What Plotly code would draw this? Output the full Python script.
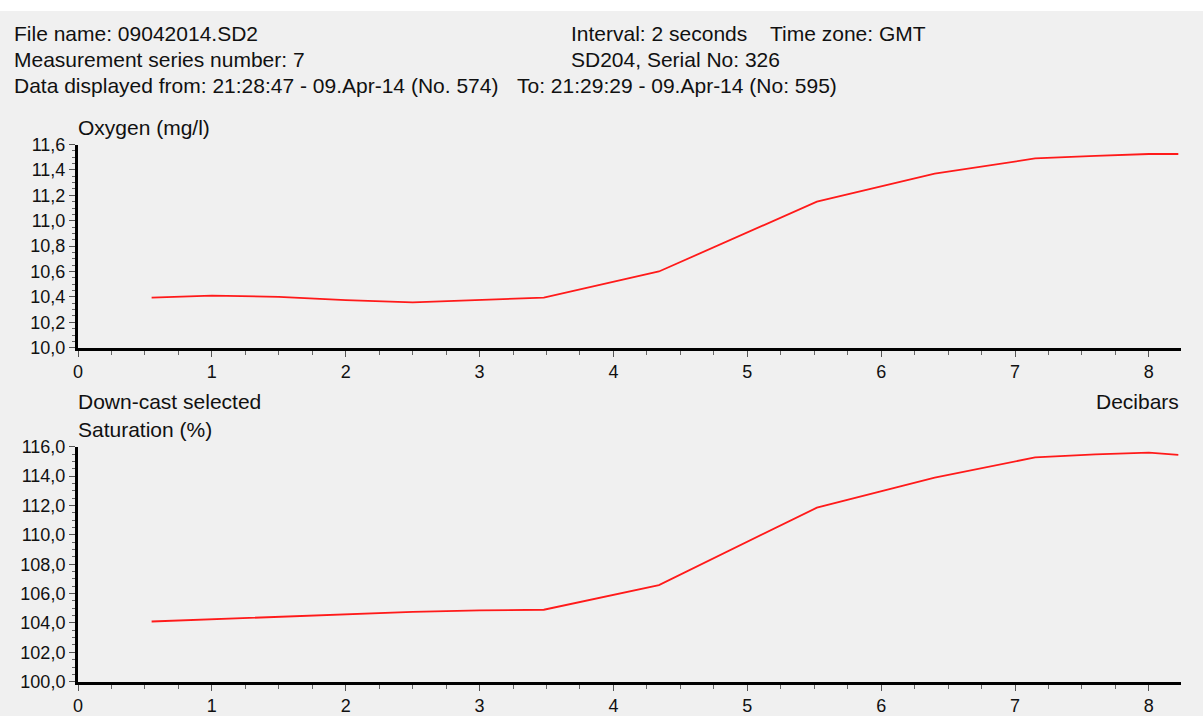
import plotly.graph_objects as go
from plotly.subplots import make_subplots

# ---- data ----
pressure_dbar = [0.55, 1.0, 1.5, 2.0, 2.5, 3.0, 3.48, 4.34, 5.52, 6.4, 7.15, 7.6, 8.0, 8.22]
oxygen_mgl = [10.395, 10.41, 10.40, 10.375, 10.357, 10.375, 10.395, 10.60, 11.15, 11.37, 11.49, 11.51, 11.525, 11.525]
saturation_pct = [104.1, 104.25, 104.4, 104.58, 104.75, 104.85, 104.9, 106.58, 111.85, 113.9, 115.27, 115.48, 115.59, 115.45]

x_ticks = [0, 1, 2, 3, 4, 5, 6, 7, 8]
oxy_ticks = [10.0, 10.2, 10.4, 10.6, 10.8, 11.0, 11.2, 11.4, 11.6]
sat_ticks = [100.0, 102.0, 104.0, 106.0, 108.0, 110.0, 112.0, 114.0, 116.0]

header_left = ["File name: 09042014.SD2", "Measurement series number: 7",
               "Data displayed from: 21:28:47 - 09.Apr-14 (No. 574)"]
header_right = ["Interval: 2 seconds", "SD204, Serial No: 326"]
header_tz = "Time zone: GMT"
header_to = "To: 21:29:29 - 09.Apr-14 (No: 595)"

W, H = 1203, 716
BG = "#f0f0f0"
FONT = "Liberation Sans, Arial, sans-serif"

def py(pix):
    return 1 - pix / H

fig = make_subplots(rows=2, cols=1)
fig.add_trace(go.Scatter(x=pressure_dbar, y=oxygen_mgl, mode="lines",
                         line=dict(color="#ff1a1a", width=1.8), hoverinfo="skip"), row=1, col=1)
fig.add_trace(go.Scatter(x=pressure_dbar, y=saturation_pct, mode="lines",
                         line=dict(color="#ff1a1a", width=1.8), hoverinfo="skip"), row=2, col=1)

xcommon = dict(range=[0, 8.24], tickvals=x_ticks, ticks="outside", ticklen=6, tickwidth=1,
               tickcolor="#555", showline=True, linecolor="black", linewidth=3,
               showgrid=False, zeroline=False, automargin=False,
               tickfont=dict(family=FONT, size=18, color="#111"),
               minor=dict(dtick=0.25, ticks="outside", ticklen=4, tickcolor="#666", showgrid=False))
ycommon = dict(ticks="outside", ticklen=6, tickwidth=1, tickcolor="#555",
               showline=True, linecolor="black", linewidth=3, showgrid=False,
               zeroline=False, automargin=False, tickformat=".1f",
               tickfont=dict(family=FONT, size=18, color="#111"))

fig.update_xaxes(**xcommon)
fig.update_yaxes(**ycommon)
fig.update_layout(
    xaxis=dict(domain=[78 / W, 1181 / W]),
    xaxis2=dict(domain=[78 / W, 1181 / W]),
    yaxis=dict(domain=[py(347.7), py(144.5)], range=[10.0, 11.6], tickvals=oxy_ticks,
               minor=dict(dtick=0.05, ticks="outside", ticklen=3, tickcolor="#666", showgrid=False)),
    yaxis2=dict(domain=[py(681.7), py(446.7)], range=[100.0, 116.0], tickvals=sat_ticks,
                minor=dict(dtick=0.5, ticks="outside", ticklen=3, tickcolor="#666", showgrid=False)),
)

ann = []
def add_text(txt, x, yc, xanchor="left"):
    ann.append(dict(text=txt, x=x / W, y=py(yc), xref="paper", yref="paper",
                    xanchor=xanchor, yanchor="middle", showarrow=False,
                    font=dict(family=FONT, size=21, color="#111")))

for i, t in enumerate(header_left):
    add_text(t, 12, 34 + 26 * i)
add_text(header_right[0], 569, 34)
add_text(header_tz, 768, 34)
add_text(header_right[1], 569, 60)
add_text(header_to, 515, 86)
add_text("Oxygen (mg/l)", 76, 127)
add_text("Down-cast selected", 76, 401)
add_text("Saturation (%)", 76, 429)
add_text("Decibars", 1181, 401, xanchor="right")

fig.update_layout(
    width=W, height=H,
    margin=dict(l=0, r=0, t=0, b=0),
    paper_bgcolor=BG, plot_bgcolor=BG,
    separators=",.",
    showlegend=False,
    annotations=ann,
    shapes=[dict(type="rect", xref="paper", yref="paper", x0=0, x1=1, y0=py(11), y1=1,
                 fillcolor="white", line=dict(width=0), layer="below")],
)

fig.write_html("out.html", config={"displayModeBar": False},
               post_script="document.body.style.margin='0';document.body.style.padding='0';")
